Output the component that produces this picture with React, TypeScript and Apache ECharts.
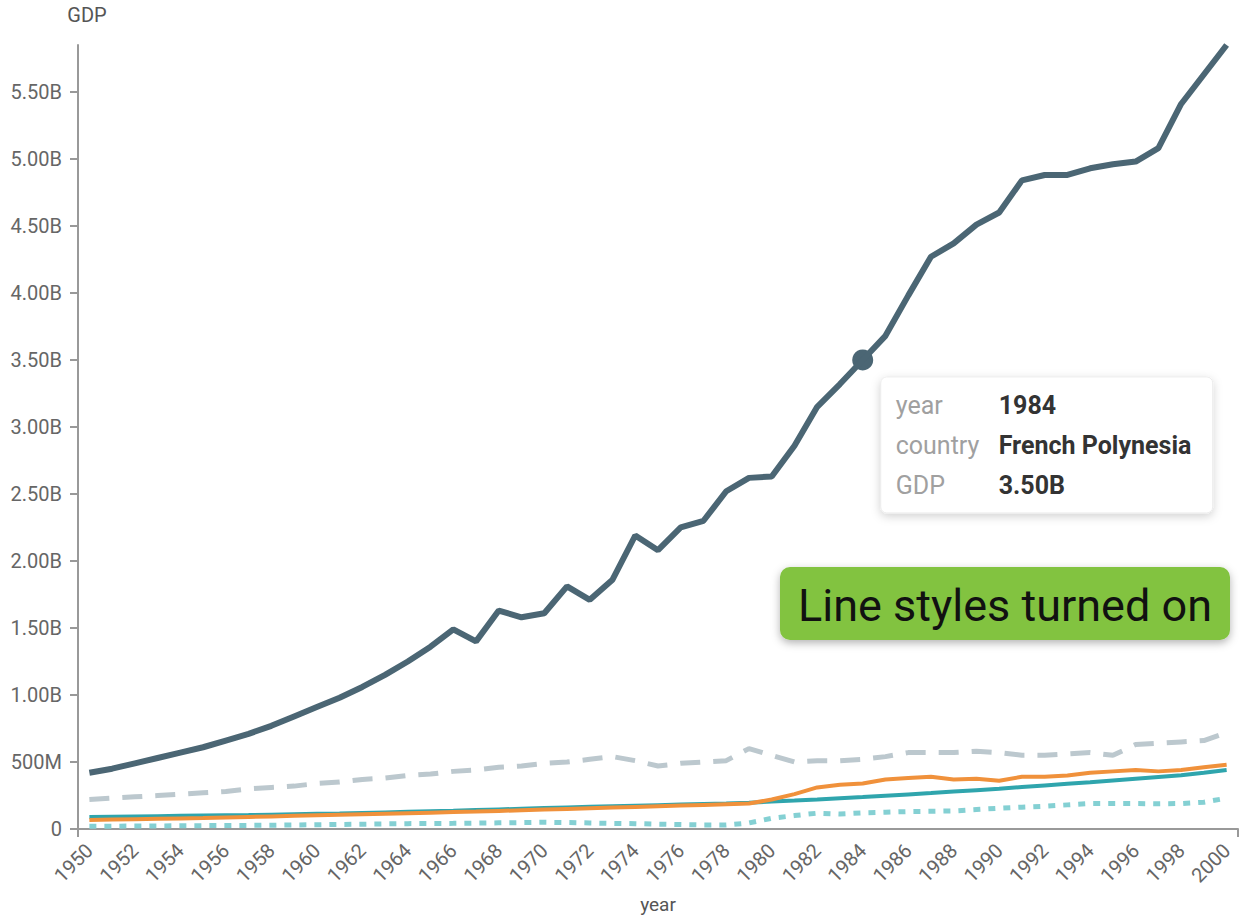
import React, { useEffect, useRef } from 'react';
import * as echarts from 'echarts';

const years = [
  '1950', '1951', '1952', '1953', '1954', '1955', '1956', '1957', '1958', '1959',
  '1960', '1961', '1962', '1963', '1964', '1965', '1966', '1967', '1968', '1969',
  '1970', '1971', '1972', '1973', '1974', '1975', '1976', '1977', '1978', '1979',
  '1980', '1981', '1982', '1983', '1984', '1985', '1986', '1987', '1988', '1989',
  '1990', '1991', '1992', '1993', '1994', '1995', '1996', '1997', '1998', '1999',
  '2000',
];

// GDP in billions
const frenchPolynesia = [
  0.42, 0.45, 0.49, 0.53, 0.57, 0.61, 0.66, 0.71, 0.77, 0.84,
  0.91, 0.98, 1.06, 1.15, 1.25, 1.36, 1.49, 1.40, 1.63, 1.58,
  1.61, 1.81, 1.71, 1.86, 2.19, 2.08, 2.25, 2.30, 2.52, 2.62,
  2.63, 2.86, 3.15, 3.32, 3.50, 3.68, 3.98, 4.27, 4.37, 4.51,
  4.60, 4.84, 4.88, 4.88, 4.93, 4.96, 4.98, 5.08, 5.41, 5.63,
  5.85,
];

const dashedGrey = [
  0.22, 0.23, 0.24, 0.25, 0.26, 0.27, 0.28, 0.30, 0.31, 0.32,
  0.34, 0.35, 0.37, 0.38, 0.40, 0.41, 0.43, 0.44, 0.46, 0.47,
  0.49, 0.50, 0.52, 0.54, 0.51, 0.47, 0.49, 0.50, 0.51, 0.60,
  0.55, 0.50, 0.51, 0.51, 0.52, 0.54, 0.57, 0.57, 0.57, 0.58,
  0.57, 0.55, 0.55, 0.56, 0.57, 0.55, 0.63, 0.64, 0.65, 0.66,
  0.72,
];

const tealSolid = [
  0.090, 0.092, 0.094, 0.096, 0.098, 0.100, 0.102, 0.104, 0.107, 0.110,
  0.113, 0.116, 0.120, 0.124, 0.128, 0.132, 0.136, 0.141, 0.146, 0.151,
  0.156, 0.161, 0.166, 0.170, 0.174, 0.178, 0.182, 0.186, 0.190, 0.195,
  0.205, 0.212, 0.220, 0.229, 0.238, 0.248, 0.258, 0.268, 0.279, 0.290,
  0.301, 0.313, 0.325, 0.337, 0.349, 0.362, 0.375, 0.388, 0.401, 0.420,
  0.440,
];

const orangeSolid = [
  0.067, 0.070, 0.073, 0.076, 0.079, 0.082, 0.086, 0.090, 0.094, 0.098,
  0.102, 0.106, 0.110, 0.114, 0.118, 0.122, 0.126, 0.130, 0.135, 0.140,
  0.145, 0.150, 0.155, 0.160, 0.165, 0.170, 0.175, 0.180, 0.185, 0.190,
  0.220, 0.260, 0.310, 0.330, 0.340, 0.370, 0.380, 0.390, 0.370, 0.375,
  0.360, 0.390, 0.390, 0.400, 0.420, 0.430, 0.440, 0.430, 0.440, 0.460,
  0.480,
];

const tealDotted = [
  0.020, 0.021, 0.022, 0.023, 0.024, 0.025, 0.026, 0.027, 0.028, 0.030,
  0.032, 0.034, 0.036, 0.038, 0.040, 0.041, 0.042, 0.044, 0.046, 0.048,
  0.050, 0.048, 0.045, 0.042, 0.040, 0.036, 0.033, 0.030, 0.030, 0.045,
  0.080, 0.100, 0.118, 0.112, 0.120, 0.125, 0.130, 0.132, 0.135, 0.145,
  0.155, 0.163, 0.170, 0.180, 0.190, 0.190, 0.190, 0.188, 0.190, 0.200,
  0.230,
];

const highlightYear = '1984';
const highlightCountry = 'French Polynesia';

const FONT = 'Roboto, "Noto Sans", sans-serif';

function fmtGDP(v: number): string {
  if (v === 0) return '0';
  if (v < 1) return Math.round(v * 1000) + 'M';
  return v.toFixed(2) + 'B';
}

export default function App() {
  const ref = useRef<HTMLDivElement>(null);

  useEffect(() => {
    document.body.style.margin = '0';
    const chart = echarts.init(ref.current!, null, { renderer: 'svg' });
    const hiIdx = years.indexOf(highlightYear);
    const hiVal = frenchPolynesia[hiIdx];

    const gridLeft = 78;
    const gridRight = 8;
    const gridTop = 45;
    const gridBottom = 89;

    chart.setOption({
      animation: false,
      textStyle: { fontFamily: FONT },
      grid: {
        left: gridLeft,
        right: gridRight,
        top: gridTop,
        bottom: gridBottom,
        containLabel: false,
        outerBoundsMode: 'none',
      },
      xAxis: {
        type: 'category',
        data: years,
        boundaryGap: true,
        name: 'year',
        nameLocation: 'middle',
        nameGap: 66,
        nameTextStyle: { fontSize: 19, color: '#555', fontFamily: FONT },
        axisLine: { lineStyle: { color: '#999', width: 2 } },
        axisTick: { interval: 1, alignWithLabel: true, length: 8, lineStyle: { color: '#999', width: 2 } },
        axisLabel: {
          interval: 1,
          rotate: 45,
          margin: 18,
          fontSize: 20,
          color: '#666',
          fontFamily: FONT,
        },
        splitLine: { show: false },
      },
      yAxis: {
        type: 'value',
        min: 0,
        max: 5.85,
        interval: 0.5,
        name: 'GDP',
        nameLocation: 'end',
        nameGap: 20,
        nameTextStyle: { fontSize: 20, color: '#555', fontFamily: FONT, align: 'center', padding: [0, 0, 0, 18] },
        axisLine: { show: true, lineStyle: { color: '#999', width: 2 } },
        axisTick: { show: true, length: 8, lineStyle: { color: '#999', width: 2 } },
        axisLabel: {
          showMaxLabel: false,
          margin: 16,
          fontSize: 20,
          color: '#666',
          fontFamily: FONT,
          formatter: (v: number) => fmtGDP(v),
        },
        splitLine: { show: false },
      },
      series: [
        {
          name: 'Country 2',
          type: 'line',
          data: dashedGrey,
          symbol: 'none',
          lineStyle: { color: '#bcc8ce', width: 5, type: [20, 13] },
          z: 2,
        },
        {
          name: 'Country 5',
          type: 'line',
          data: tealDotted,
          symbol: 'none',
          lineStyle: { color: '#84d0d3', width: 5, type: [7, 8] },
          z: 2,
        },
        {
          name: 'Country 3',
          type: 'line',
          data: tealSolid,
          symbol: 'none',
          lineStyle: { color: '#2fa5ad', width: 4 },
          z: 3,
        },
        {
          name: 'Country 4',
          type: 'line',
          data: orangeSolid,
          symbol: 'none',
          lineStyle: { color: '#f0913b', width: 4 },
          z: 4,
        },
        {
          name: highlightCountry,
          type: 'line',
          data: frenchPolynesia,
          symbol: 'none',
          lineStyle: { color: '#4b6674', width: 6 },
          z: 5,
          markPoint: {
            symbol: 'circle',
            symbolSize: 21,
            itemStyle: { color: '#4b6674' },
            label: { show: false },
            data: [{ coord: [hiIdx, hiVal] }],
          },
        },
      ],
    });

    const [px, py] = chart.convertToPixel({ gridIndex: 0 }, [hiIdx, hiVal]) as number[];
    const w = chart.getWidth();
    const h = chart.getHeight();
    const axisBottom = h - gridBottom;

    const rowLabel = (text: string, y: number) => ({
      type: 'text',
      x: 15,
      y,
      style: { text, fill: '#a0a0a0', fontSize: 25, fontFamily: FONT, verticalAlign: 'middle' },
    });
    const rowValue = (text: string, y: number) => ({
      type: 'text',
      x: 118,
      y,
      style: { text, fill: '#333', fontSize: 25, fontWeight: 'bold', fontFamily: FONT, verticalAlign: 'middle' },
    });

    chart.setOption({
      graphic: [
        // outer ticks at the ends of the x axis
        {
          type: 'line',
          shape: { x1: gridLeft, y1: axisBottom, x2: gridLeft, y2: axisBottom + 8 },
          style: { stroke: '#999', lineWidth: 2 },
          z: 10,
        },
        {
          type: 'line',
          shape: { x1: w - gridRight, y1: axisBottom, x2: w - gridRight, y2: axisBottom + 8 },
          style: { stroke: '#999', lineWidth: 2 },
          z: 10,
        },
        {
          type: 'group',
          x: px + 18,
          y: py + 17,
          z: 20,
          children: [
            {
              type: 'rect',
              shape: { x: 0, y: 0, width: 332, height: 136, r: 6 },
              style: {
                fill: '#fff',
                stroke: '#ececec',
                lineWidth: 1,
                shadowBlur: 10,
                shadowColor: 'rgba(0,0,0,0.18)',
                shadowOffsetY: 3,
              },
            },
            rowLabel('year', 29),
            rowValue(highlightYear, 29),
            rowLabel('country', 69),
            rowValue(highlightCountry, 69),
            rowLabel('GDP', 109),
            rowValue(fmtGDP(hiVal), 109),
          ],
        },
        {
          type: 'group',
          x: 780,
          y: 567,
          z: 20,
          children: [
            {
              type: 'rect',
              shape: { x: 0, y: 0, width: 450, height: 73, r: 10 },
              style: {
                fill: '#82c341',
                shadowBlur: 8,
                shadowColor: 'rgba(0,0,0,0.3)',
                shadowOffsetY: 3,
              },
            },
            {
              type: 'text',
              x: 225,
              y: 38,
              style: {
                text: 'Line styles turned on',
                fill: '#111',
                fontSize: 45,
                fontFamily: FONT,
                align: 'center',
                verticalAlign: 'middle',
              },
            },
          ],
        },
      ],
    });

    return () => chart.dispose();
  }, []);

  return <div ref={ref} style={{ width: 1246, height: 918 }} />;
}
